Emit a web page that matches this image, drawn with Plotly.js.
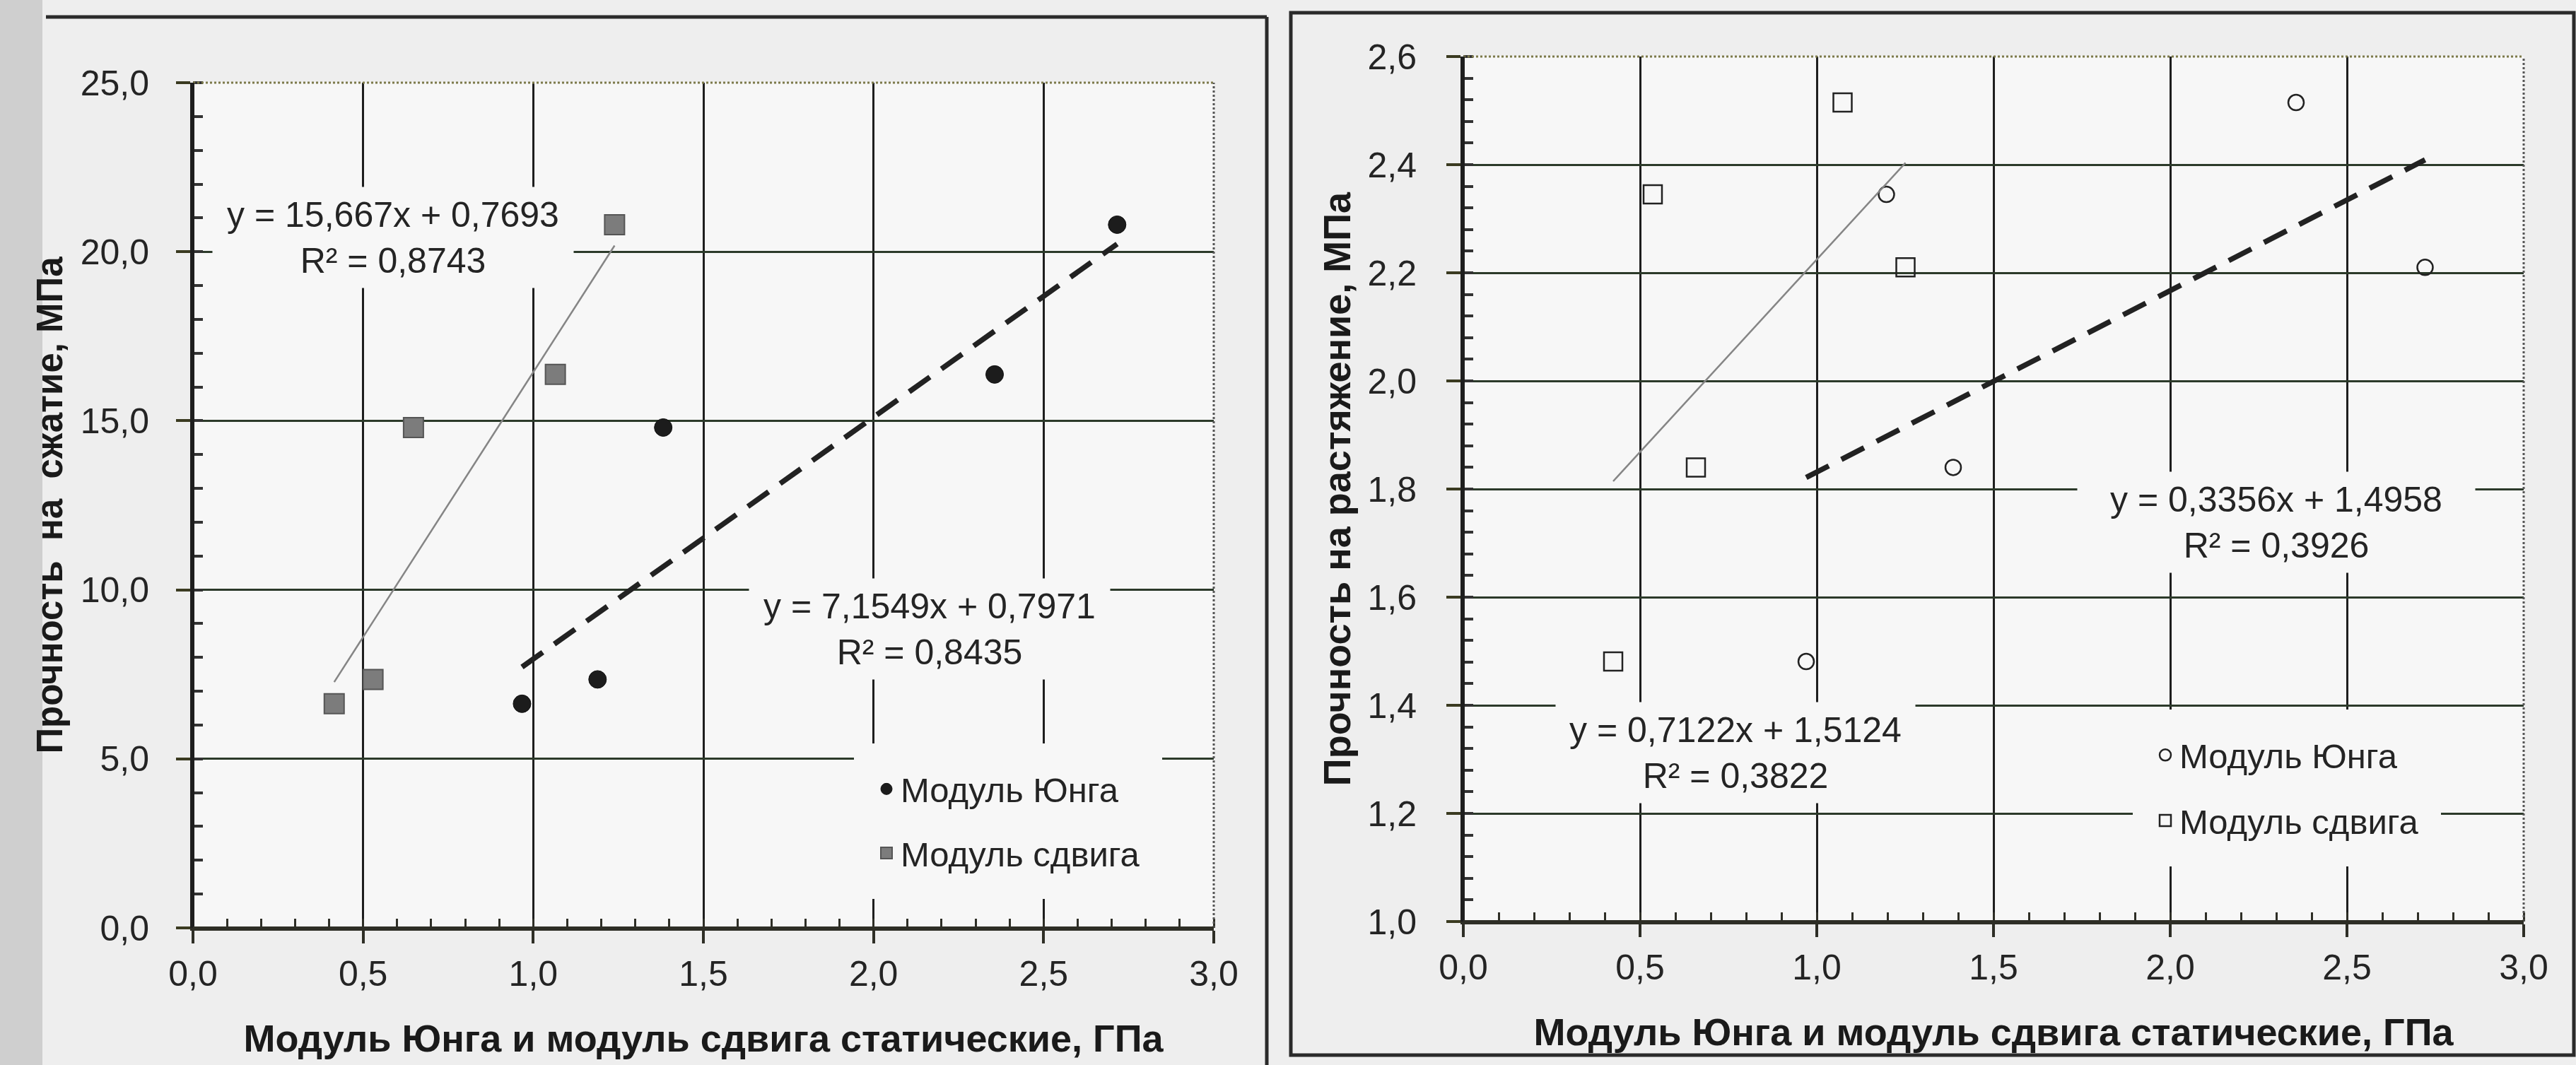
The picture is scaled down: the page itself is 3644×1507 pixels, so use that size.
<!DOCTYPE html>
<html>
<head>
<meta charset="utf-8">
<script src="https://cdn.plot.ly/plotly-3.0.1.min.js"></script>
<style>
html, body { margin: 0; padding: 0; background: #eeeeee; }
#chart { width: 3644px; height: 1507px; }
</style>
</head>
<body>
<div id="chart"></div>
<script>
// ---------------- DATA ----------------
const seriesNames = ['Модуль Юнга', 'Модуль сдвига'];
const xTitle = 'Модуль Юнга и модуль сдвига статические, ГПа';
const yTitleLeft = 'Прочность  на  сжатие, МПа';
const yTitleRight = 'Прочность на растяжение, МПа';

const xTickVals = [0.0, 0.5, 1.0, 1.5, 2.0, 2.5, 3.0];
const yTickValsLeft = [0, 5, 10, 15, 20, 25];
const yTickValsRight = [1.0, 1.2, 1.4, 1.6, 1.8, 2.0, 2.2, 2.4, 2.6];

// Left chart: compressive strength, MPa
const youngCompX = [0.967, 1.189, 1.382, 2.356, 2.716];
const shearCompX = [0.415, 0.529, 0.648, 1.065, 1.239];
const compStrength = [6.63, 7.35, 14.8, 16.37, 20.8];
const compSlope = [7.1549, 15.667];      // [Young, shear]
const compIntercept = [0.7971, 0.7693];
const compR2 = [0.8435, 0.8743];

// Right chart: tensile strength, MPa
const youngTensX = [0.970, 1.197, 1.386, 2.356, 2.721];
const shearTensX = [0.424, 0.536, 0.658, 1.073, 1.251];
const tensStrength = [1.481, 2.345, 1.840, 2.515, 2.210];
const tensSlope = [0.3356, 0.7122];      // [Young, shear]
const tensIntercept = [1.4958, 1.5124];
const tensR2 = [0.3926, 0.3822];

// ---------------- HELPERS ----------------
const FONT = 'Liberation Sans, Arial, sans-serif';
const TXT = '#242424';
const PLOT_BG = '#f7f7f7';
const W = 3644, H = 1507;

function fmt(v) { return String(v).replace('.', ','); }
function eqText(k, b, r2) { return 'y = ' + fmt(k) + 'x + ' + fmt(b) + '<br>R² = ' + fmt(r2); }
function trendXY(xs, k, b) {
  const lo = Math.min.apply(null, xs), hi = Math.max.apply(null, xs);
  return { x: [lo, hi], y: [k * lo + b, k * hi + b] };
}

const tY = trendXY(youngCompX, compSlope[0], compIntercept[0]);
const tS = trendXY(shearCompX, compSlope[1], compIntercept[1]);
const tY2 = trendXY(youngTensX, tensSlope[0], tensIntercept[0]);
const tS2 = trendXY(shearTensX, tensSlope[1], tensIntercept[1]);

const traces = [
  // left chart
  { x: youngCompX, y: compStrength, type: 'scatter', mode: 'markers', name: seriesNames[0],
    xaxis: 'x', yaxis: 'y', legend: 'legend', legendgroup: 'a',
    marker: { symbol: 'circle', size: 25, color: '#1c1c1c', line: { color: '#111', width: 1 } } },
  { x: shearCompX, y: compStrength, type: 'scatter', mode: 'markers', name: seriesNames[1],
    xaxis: 'x', yaxis: 'y', legend: 'legend', legendgroup: 'b',
    marker: { symbol: 'square', size: 28, color: '#7c7c7c', line: { color: '#555', width: 2 } } },
  { x: tY.x, y: tY.y, type: 'scatter', mode: 'lines', showlegend: false, xaxis: 'x', yaxis: 'y',
    line: { color: '#222', width: 7.5, dash: '36px,20px' } },
  { x: tS.x, y: tS.y, type: 'scatter', mode: 'lines', showlegend: false, xaxis: 'x', yaxis: 'y',
    line: { color: '#858585', width: 2.5 } },
  // right chart
  { x: youngTensX, y: tensStrength, type: 'scatter', mode: 'markers', name: seriesNames[0],
    xaxis: 'x2', yaxis: 'y2', legend: 'legend2', legendgroup: 'c',
    marker: { symbol: 'circle-open', size: 22, color: '#222', line: { color: '#222', width: 2.5 } } },
  { x: shearTensX, y: tensStrength, type: 'scatter', mode: 'markers', name: seriesNames[1],
    xaxis: 'x2', yaxis: 'y2', legend: 'legend2', legendgroup: 'd',
    marker: { symbol: 'square-open', size: 26, color: '#222', line: { color: '#222', width: 2.5 } } },
  { x: tY2.x, y: tY2.y, type: 'scatter', mode: 'lines', showlegend: false, xaxis: 'x2', yaxis: 'y2',
    line: { color: '#222', width: 7.5, dash: '36px,20px' } },
  { x: tS2.x, y: tS2.y, type: 'scatter', mode: 'lines', showlegend: false, xaxis: 'x2', yaxis: 'y2',
    line: { color: '#858585', width: 2.5 } }
];

function xAxis(domain, anchor) {
  return {
    domain: domain, anchor: anchor, range: [0, 3], tickmode: 'array', tickvals: xTickVals,
    tickformat: '.1f', showgrid: true, gridcolor: '#1e1e1e', gridwidth: 3, zeroline: false,
    showline: true, linecolor: '#2e2e26', linewidth: 4,
    ticks: 'outside', ticklen: 18, tickwidth: 4, tickcolor: '#2e2e26', ticklabelstandoff: 0,
    minor: { dtick: 0.1, ticks: 'inside', ticklen: 13, tickwidth: 3, tickcolor: '#2e2e26', showgrid: false },
    tickfont: { family: FONT, size: 50, color: TXT },
    title: { text: xTitle, standoff: 46, font: { family: FONT, size: 54, color: '#1a1a1a', weight: 'bold' } },
    fixedrange: true
  };
}
function yAxis(domain, anchor, range, vals, minorDt, title, lblOff, titleOff, titleSize) {
  return {
    domain: domain, anchor: anchor, range: range, tickmode: 'array', tickvals: vals,
    tickformat: '.1f', showgrid: true, gridcolor: '#2c3a2a', gridwidth: 3, zeroline: false,
    showline: true, linecolor: '#1e1e1e', linewidth: 4,
    ticks: 'outside', ticklen: 20, tickwidth: 4, tickcolor: '#3a3a20', ticklabelstandoff: lblOff,
    minor: { dtick: minorDt, ticks: 'inside', ticklen: 14, tickwidth: 4, tickcolor: '#333', showgrid: false },
    tickfont: { family: FONT, size: 50, color: TXT },
    title: { text: title, standoff: titleOff, font: { family: FONT, size: titleSize, color: '#1a1a1a', weight: 'bold' } },
    fixedrange: true
  };
}

const annFont = { family: FONT, size: 50, color: TXT };
function ann(xref, yref, x, y, w, text) {
  return { xref: xref, yref: yref, x: x, y: y, text: text, showarrow: false,
    width: w, height: 140, align: 'center', valign: 'middle',
    bgcolor: PLOT_BG, font: annFont };
}

const px = v => v / W, py = v => 1 - v / H;

function axisLines(xa, ya) {
  return [
    { type: 'line', xref: xa + ' domain', yref: ya + ' domain', x0: 0, x1: 1, y0: 1, y1: 1, line: { color: '#7d7a4a', width: 3, dash: 'dot' } },
    { type: 'line', xref: xa + ' domain', yref: ya + ' domain', x0: 1, x1: 1, y0: 0, y1: 1, line: { color: '#555', width: 3, dash: 'dot' } },
    { type: 'line', xref: xa + ' domain', yref: ya + ' domain', x0: 0, x1: 0, y0: 0, y1: 1, line: { color: '#1e1e1e', width: 4 } },
    { type: 'line', xref: xa + ' domain', yref: ya + ' domain', x0: 0, x1: 1, y0: 0, y1: 0, line: { color: '#2e2e26', width: 4 } }
  ];
}

const layout = {
  width: W, height: H,
  margin: { l: 0, r: 0, t: 0, b: 0 },
  paper_bgcolor: '#eeeeee', plot_bgcolor: PLOT_BG,
  separators: ', ',
  font: { family: FONT, color: TXT },
  xaxis: xAxis([px(273), px(1717)], 'y'),
  yaxis: yAxis([1 - 1313 / H, 1 - 117 / H], 'x', [0, 25], yTickValsLeft, 1, yTitleLeft, 28, 10, 51),
  xaxis2: xAxis([px(2070), px(3570)], 'y2'),
  yaxis2: yAxis([1 - 1304 / H, 1 - 80 / H], 'x2', [1.0, 2.6], yTickValsRight, 0.04, yTitleRight, 32, 8, 54),
  legend: {
    x: px(1208), xanchor: 'left', y: py(1052), yanchor: 'top',
    bgcolor: PLOT_BG, bordercolor: PLOT_BG, borderwidth: 26,
    font: { family: FONT, size: 49, color: TXT }, traceorder: 'grouped', tracegroupgap: 24
  },
  legend2: {
    x: px(3017), xanchor: 'left', y: py(1004), yanchor: 'top',
    bgcolor: PLOT_BG, bordercolor: PLOT_BG, borderwidth: 26,
    font: { family: FONT, size: 49, color: TXT }, traceorder: 'grouped', tracegroupgap: 26
  },
  annotations: [
    ann('x', 'y', 0.588, 20.42, 508, eqText(compSlope[1], compIntercept[1], compR2[1])),
    ann('x', 'y', 2.164, 8.84, 508, eqText(compSlope[0], compIntercept[0], compR2[0])),
    ann('x2', 'y2', 2.30, 1.738, 560, eqText(tensSlope[0], tensIntercept[0], tensR2[0])),
    ann('x2', 'y2', 0.77, 1.313, 506, eqText(tensSlope[1], tensIntercept[1], tensR2[1]))
  ],
  shapes: axisLines('x', 'y').concat(axisLines('x2', 'y2')).concat([
    // chart frames
    { type: 'line', xref: 'paper', yref: 'paper', x0: px(65), x1: px(1792), y0: py(24), y1: py(24), line: { color: '#2a2a2a', width: 5 } },
    { type: 'line', xref: 'paper', yref: 'paper', x0: px(1792), x1: px(1792), y0: py(24), y1: 0, line: { color: '#2a2a2a', width: 5 } },
    { type: 'rect', xref: 'paper', yref: 'paper', x0: px(1826), x1: px(3641), y0: py(1493), y1: py(18), line: { color: '#2a2a2a', width: 5 } },
    // scan shadow on the left edge
    { type: 'rect', xref: 'paper', yref: 'paper', x0: 0, x1: px(60), y0: 0, y1: 1, fillcolor: '#cfcfcf', line: { width: 0 }, layer: 'below' }
  ])
};

Plotly.newPlot('chart', traces, layout, { displayModeBar: false, staticPlot: true });
</script>
</body>
</html>
